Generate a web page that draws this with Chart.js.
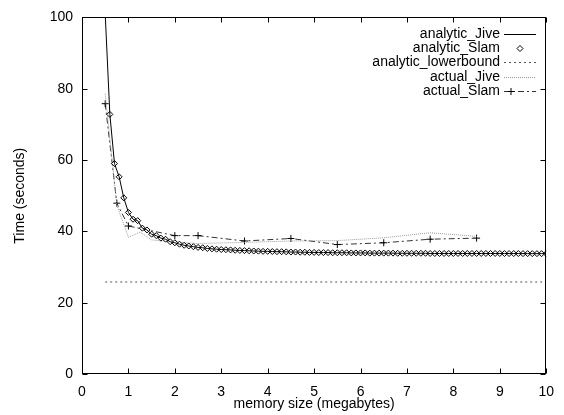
<!DOCTYPE html>
<html><head><meta charset="utf-8">
<script src="https://cdn.jsdelivr.net/npm/chart.js@4.4.1/dist/chart.umd.min.js"></script>
<style>html,body{margin:0;padding:0;background:#fff}canvas{display:block}</style>
</head><body>
<canvas id="c" width="564" height="415"></canvas>
<script>
// ---- data ----
const xTickLabels = ['0','1','2','3','4','5','6','7','8','9','10'];
const yTickLabels = ['0','20','40','60','80','100'];

const analyticX = [0.5,0.6,0.7,0.8,0.9,1.0,1.1,1.2,1.3,1.4,1.5,1.6,1.7,1.8,1.9,2.0,2.1,2.2,2.3,2.4,2.5,2.6,2.7,2.8,2.9,3.0,
  3.1,3.2,3.3,3.4,3.5,3.6,3.7,3.8,3.9,4.0,4.1,4.2,4.3,4.4,4.5,4.6,4.7,4.8,4.9,5.0,5.1,5.2,5.3,5.4,5.5,5.6,5.7,5.8,5.9,6.0,
  6.1,6.2,6.3,6.4,6.5,6.6,6.7,6.8,6.9,7.0,7.1,7.2,7.3,7.4,7.5,7.6,7.7,7.8,7.9,8.0,8.1,8.2,8.3,8.4,8.5,8.6,8.7,8.8,8.9,9.0,
  9.1,9.2,9.3,9.4,9.5,9.6,9.7,9.8,9.9,10.0];
const analyticY = [101,72.8,59.0,55.3,49.4,45.3,43.4,43.0,40.9,40.4,39.2,38.8,38.1,37.8,37.1,36.8,36.4,36.1,35.9,35.7,35.5,35.4,35.2,35.1,35.0,34.9,
  34.85,34.8,34.7,34.65,34.6,34.55,34.5,34.45,34.4,34.4,34.35,34.3,34.3,34.25,34.2,34.2,34.15,34.15,34.1,34.1,34.05,34.05,34.05,34.0,34.0,34.0,34.0,33.95,33.95,33.95,
  33.95,33.9,33.9,33.9,33.9,33.9,33.9,33.85,33.85,33.85,33.85,33.85,33.85,33.85,33.8,33.8,33.8,33.8,33.8,33.8,33.8,33.8,33.8,33.8,33.8,33.8,33.8,33.8,33.8,33.8,
  33.78,33.78,33.78,33.78,33.76,33.76,33.76,33.75,33.75,33.75];
const lowerboundX = [0.5, 10];
const lowerboundY = [25.8, 25.8];
const actualJiveX = [0.5, 0.75, 1, 1.25, 1.5, 2, 2.5, 3.5, 4.5, 5.5, 6.5, 7.5, 8.5];
const actualJiveY = [78.6, 47.4, 38.3, 39.8, 37.6, 37.0, 36.6, 36.9, 37.3, 37.4, 38.2, 39.6, 38.6];
const actualSlamX = [0.5, 0.75, 1, 2, 2.5, 3.5, 4.5, 5.5, 6.5, 7.5, 8.5];
const actualSlamY = [75.8, 47.9, 41.5, 38.8, 38.8, 37.3, 38.0, 36.3, 36.8, 37.8, 38.1];
const seriesNames = ['analytic_Jive','analytic_Slam','analytic_lowerbound','actual_Jive','actual_Slam'];

const pts = (xs, ys) => xs.map((v, i) => ({x: v, y: ys[i]}));

Chart.defaults.font.family = "'Liberation Sans', Arial, sans-serif";
Chart.defaults.font.size = 14;
Chart.defaults.color = '#000';

const framePlugin = {
  id: 'frame',
  afterDraw(chart) {
    const {ctx, chartArea: a, scales: {x, y}} = chart;
    ctx.save();
    ctx.strokeStyle = '#000';
    ctx.lineWidth = 1;
    const L = Math.round(a.left) + 0.5, R = Math.round(a.right) - 0.5;
    const T = Math.round(a.top) + 0.5, B = Math.round(a.bottom) - 0.5;
    ctx.strokeRect(L, T, R - L, B - T);
    ctx.beginPath();
    const tl = 5;
    x.ticks.forEach(t => {
      const p = Math.round(x.getPixelForValue(t.value)) + 0.5;
      ctx.moveTo(p, B); ctx.lineTo(p, B - tl);
      ctx.moveTo(p, T); ctx.lineTo(p, T + tl);
    });
    y.ticks.forEach(t => {
      const p = Math.round(y.getPixelForValue(t.value)) + 0.5;
      ctx.moveTo(L, p); ctx.lineTo(L + tl, p);
      ctx.moveTo(R, p); ctx.lineTo(R - tl, p);
    });
    ctx.stroke();

    // key (legend) drawn from dataset styles
    ctx.font = "14px 'Liberation Sans', Arial, sans-serif";
    ctx.textAlign = 'right';
    ctx.textBaseline = 'middle';
    ctx.fillStyle = '#000';
    const textRight = 500, s0 = 504, s1 = 536, y0 = 34, dy = 14.2;
    chart.data.datasets.forEach((ds, i) => {
      const yy = Math.round(y0 + dy * i) + 0.5;
      ctx.fillStyle = '#000';
      ctx.fillText(ds.label, textRight, yy);
      if (ds.showLine) {
        ctx.save();
        ctx.strokeStyle = ds.borderColor;
        ctx.lineWidth = ds.borderWidth;
        ctx.setLineDash(ds.borderDash || []);
        ctx.beginPath(); ctx.moveTo(s0, yy); ctx.lineTo(s1, yy); ctx.stroke();
        ctx.restore();
      }
      if (ds.pointRadius > 0) {
        ctx.save();
        ctx.setLineDash([]);
        ctx.strokeStyle = ds.pointBorderColor;
        ctx.fillStyle = ds.pointBackgroundColor;
        ctx.lineWidth = ds.pointBorderWidth;
        Chart.helpers.drawPoint(ctx, {pointStyle: ds.pointStyle, radius: ds.pointRadius, rotation: 0, borderWidth: ds.pointBorderWidth},
          ds.legendPointX || 520, yy);
        ctx.restore();
      }
    });
    ctx.restore();
  }
};

new Chart(document.getElementById('c'), {
  type: 'scatter',
  data: {
    datasets: [
      {label: seriesNames[0], data: pts(analyticX, analyticY), showLine: true, borderColor: '#000', borderWidth: 1, pointRadius: 0},
      {label: seriesNames[1], data: pts(analyticX.slice(1), analyticY.slice(1)), showLine: false, pointStyle: 'rectRot', pointRadius: 3,
        pointBorderColor: '#000', pointBackgroundColor: '#fff', pointBorderWidth: 1, borderColor: '#000'},
      {label: seriesNames[2], data: pts(lowerboundX, lowerboundY), showLine: true, borderColor: '#555', borderWidth: 1, borderDash: [2, 3], pointRadius: 0},
      {label: seriesNames[3], data: pts(actualJiveX, actualJiveY), showLine: true, borderColor: '#9a9a9a', borderWidth: 1, borderDash: [1, 1], pointRadius: 0},
      {label: seriesNames[4], data: pts(actualSlamX, actualSlamY), showLine: true, borderColor: '#333', borderWidth: 1, borderDash: [6, 3, 2, 3],
        pointStyle: 'cross', pointRadius: 3.5, pointBorderColor: '#000', pointBackgroundColor: '#000', pointBorderWidth: 1, legendPointX: 511}
    ]
  },
  options: {
    responsive: false,
    animation: false,
    events: [],
    layout: {padding: {top: 14, right: 15, left: 0, bottom: 0}},
    elements: {line: {tension: 0}},
    scales: {
      x: {
        type: 'linear', min: 0, max: 10,
        grid: {display: false, drawTicks: false},
        border: {display: false},
        ticks: {stepSize: 1, padding: 10, maxRotation: 0, autoSkip: false,
          callback: (v, i) => xTickLabels[i]},
        title: {display: true, text: 'memory size (megabytes)', padding: {top: 0, bottom: 2}},
        afterFit(s) { s.height = 41; }
      },
      y: {
        type: 'linear', min: 0, max: 100,
        grid: {display: false, drawTicks: false},
        border: {display: false},
        ticks: {stepSize: 20, padding: 9, autoSkip: false,
          callback: (v, i) => yTickLabels[i]},
        title: {display: true, text: 'Time (seconds)', padding: {top: 12, bottom: 0}},
        afterFit(s) { s.width = 82; }
      }
    },
    plugins: {legend: {display: false}, tooltip: {enabled: false}}
  },
  plugins: [framePlugin]
});
</script>
</body></html>
